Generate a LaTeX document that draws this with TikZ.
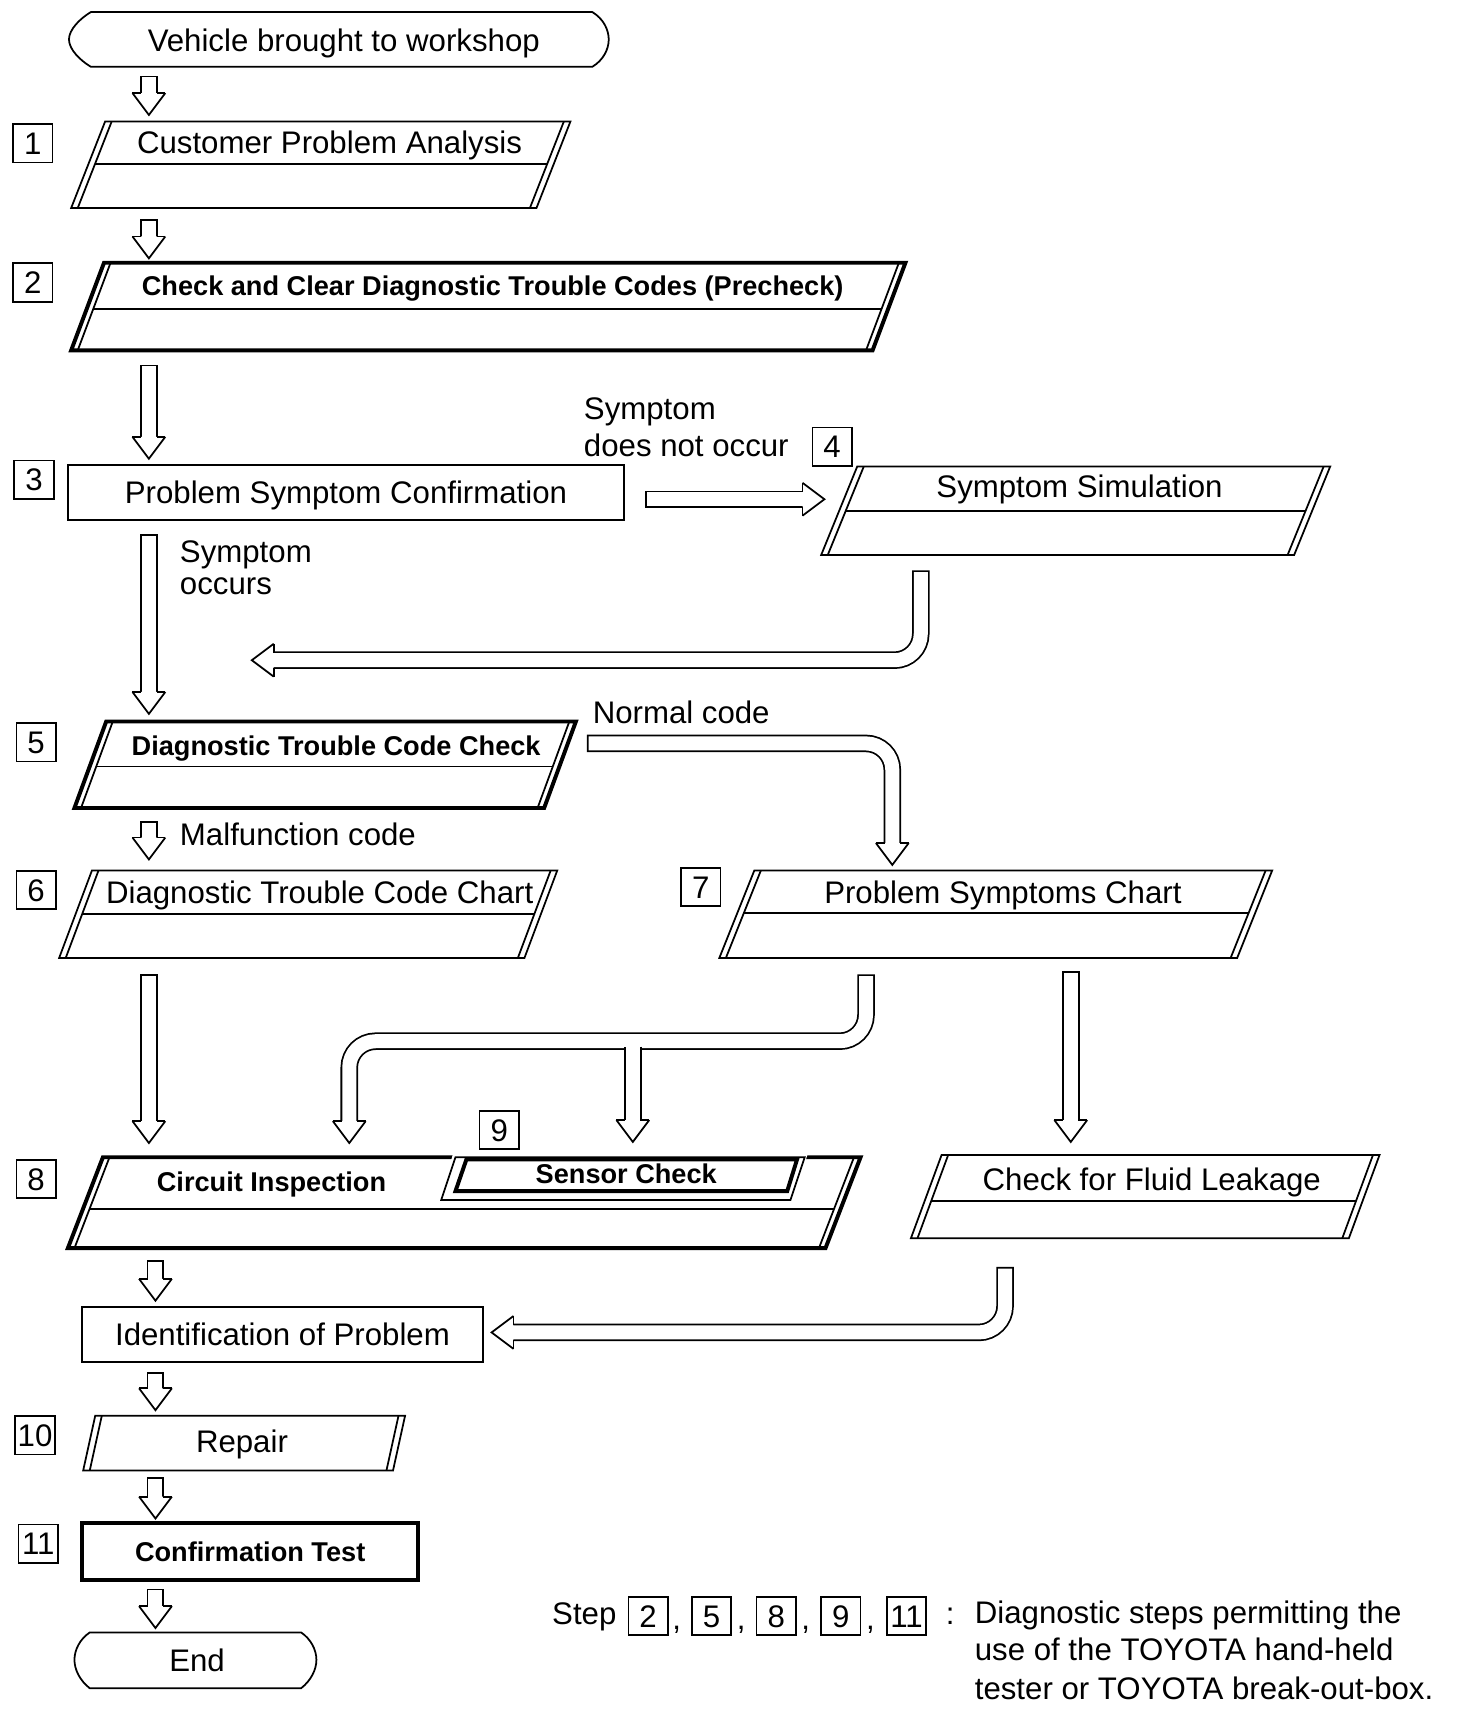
\documentclass[tikz,border=0pt]{standalone}
\usepackage{fontspec}
\setmainfont{Liberation Sans}

\newcommand{\parabox}[7]{%
  \draw[#1] (#2,#3) -- ({#2+#4},#3) -- ({#2+#4-#6},{#3+#5}) -- ({#2-#6},{#3+#5}) -- cycle;
  \draw[thinrule] ({#2+6},#3) -- ({#2+6-#6},{#3+#5}) ({#2+#4-6},#3) -- ({#2+#4-6-#6},{#3+#5});
  \ifnum#7>0 \draw[thinrule] ({#2+6-#6*#7/#5},{#3+#7}) -- ({#2+#4-6-#6*#7/#5},{#3+#7});\fi}

\begin{document}
\begin{tikzpicture}[x=0.5pt, y=-0.5pt,
  thinrule/.style={line width=0.8pt},
  thickrule/.style={line width=1.8pt},
  txt/.style={font=\fontsize{14.25}{17}\selectfont, inner sep=0pt},
  btxt/.style={font=\fontsize{12.4}{15}\selectfont\bfseries, inner sep=0pt},
  num/.style={txt, draw, line width=0.8pt, minimum width=18pt, minimum height=17.5pt, text height=10.2pt, text depth=0pt},
  rect/.style={draw, line width=0.8pt, text height=10.2pt, text depth=0pt},
  shaft/.style={line width=0.8pt, double, double distance=6.4pt, line cap=rect, rounded corners=12pt},
  headdown/.pic={\filldraw[fill=white, line width=0.8pt] (-15,0) -- (0,20) -- (15,0);
    \draw[line width=0.8pt] (-15,0) -- (-7,0) (7,0) -- (15,0);},
  headleft/.pic={\filldraw[fill=white, line width=0.8pt] (0,-15) -- (-20,0) -- (0,15);
    \draw[line width=0.8pt] (0,-15) -- (0,-7) (0,7) -- (0,15);},
  headright/.pic={\filldraw[fill=white, line width=0.8pt] (0,-15) -- (20,0) -- (0,15);
    \draw[line width=0.8pt] (0,-15) -- (0,-7) (0,7) -- (0,15);}]
\useasboundingbox (0,0) rectangle (1330,1571);

% terminals
\draw[thinrule] (83,11) -- (541,11) .. controls (551,17) and (556,27) .. (556,36) .. controls (556,45) and (551,55) .. (541,61)
  -- (83,61) .. controls (73,55) and (63,45) .. (63,36) .. controls (63,27) and (73,17) .. (83,11) -- cycle;
\node[txt, anchor=base] (start) at (314,47) {Vehicle brought to workshop};
\draw[thinrule] (82,1491) -- (275,1491) .. controls (284,1497) and (289,1507) .. (289,1516) .. controls (289,1525) and (284,1535) .. (275,1542)
  -- (82,1542) .. controls (73,1535) and (68,1525) .. (68,1516) .. controls (68,1507) and (73,1497) .. (82,1491) -- cycle;
\node[txt, anchor=base] (end) at (180,1527) {End};

% boxes
\parabox{thinrule}{96}{111}{425}{79}{31}{39}
\node[txt, anchor=base] (cpa) at (301,140) {Customer Problem Analysis};
\parabox{thickrule}{95}{240}{732}{80}{30}{42}
\node[btxt, anchor=base] (ccdtc) at (450,270) {Check and Clear Diagnostic Trouble Codes (Precheck)};
\node[rect, txt, minimum width=254pt, minimum height=25pt] (psc) at (316,450) {Problem Symptom Confirmation};
\parabox{thinrule}{783}{426}{432}{81}{33}{41}
\node[txt, anchor=base] (symsim) at (986,454) {Symptom Simulation};
\parabox{thickrule}{97}{659}{429}{79}{29}{41}
\node[btxt, anchor=base] (dtcc) at (307,690) {Diagnostic Trouble Code Check};
\parabox{thinrule}{84}{795}{425}{80}{30}{40}
\node[txt, anchor=base] (dtcchart) at (292,825) {Diagnostic Trouble Code Chart};
\parabox{thinrule}{689}{795}{473}{80}{32}{39}
\node[txt, anchor=base] (pschart) at (916,825) {Problem Symptoms Chart};
\parabox{thickrule}{94}{1057}{692}{83}{32}{47}
\fill[white] (414,1053) -- (738,1053) -- (724,1098) -- (401,1098) -- cycle;
\draw[thinrule] (416,1057) -- (735,1057) -- (722,1096) -- (403,1096) -- cycle;
\draw[thickrule] (426,1059) -- (728,1059) -- (719,1088) -- (416,1088) -- cycle;
\node[btxt, anchor=base] (circ) at (248,1088) {Circuit Inspection};
\node[btxt, anchor=base] (sensor) at (572,1081) {Sensor Check};
\parabox{thinrule}{860}{1055}{400}{76}{28}{42}
\node[txt, anchor=base] (fluid) at (1052,1087) {Check for Fluid Leakage};
\node[rect, txt, minimum width=183pt, minimum height=25pt] (ident) at (258,1219) {Identification of Problem};
\parabox{thinrule}{87}{1293}{283}{50}{11}{0}
\node[txt, anchor=base] (repair) at (221,1327) {Repair};
\node[rect, btxt, line width=1.8pt, text height=8.9pt, minimum width=153.5pt, minimum height=26pt] (conf) at (228.5,1417) {Confirmation Test};

% step numbers
\foreach \n/\x/\y in {1/30/131, 2/30/258, 3/31/438, 4/760/408, 5/33/678, 6/33/813, 7/640/810, 8/33/1077, 9/456/1032, 10/32/1311, 11/35/1410}
  \node[num] (s\n) at (\x,\y) {\n};

% labels
\node[txt, anchor=base west] (nocc1) at (533,383) {Symptom};
\node[txt, anchor=base west] (nocc2) at (533,417) {does not occur};
\node[txt, anchor=base west] (occ1) at (164,514) {Symptom};
\node[txt, anchor=base west] (occ2) at (164,543) {occurs};
\node[txt, anchor=base west] (normal) at (541,661) {Normal code};
\node[txt, anchor=base west] (malf) at (164,772) {Malfunction code};

% straight arrows
\foreach \nm/\x/\a/\b in {a1/136/77/85, a2/136/208/216, a3/136/341/399, a5/136/496/632, a8/136/758/765,
  a9/136/898/1024, a12/978/895/1023, a13/142/1159/1168, a15/142/1261/1268, a16/142/1357/1367, a17/142/1459/1467} {
  \coordinate (\nm-a) at (\x,\a);
  \coordinate (\nm-b) at (\x,\b);
  \draw[shaft] (\nm-a) -- (\nm-b);
  \pic at (\nm-b) {headdown};
}

% bent arrows
\coordinate (a4-a) at (597,456); \coordinate (a4-b) at (733,456);
\draw[shaft] (a4-a) -- (a4-b); \pic at (a4-b) {headright};
\coordinate (a6-a) at (841,529); \coordinate (a6-b) at (250,603);
\draw[shaft] (a6-a) |- (a6-b); \pic at (a6-b) {headleft};
\coordinate (a7-a) at (544,679); \coordinate (a7-b) at (815,770);
\draw[shaft] (a7-a) -| (a7-b); \pic at (a7-b) {headdown};
\coordinate (a10-a) at (791,898); \coordinate (a10-b) at (319,1024);
\draw[shaft] (a10-a) -- (791,951) -- (319,951) -- (a10-b); \pic at (a10-b) {headdown};
\coordinate (a11-a) at (578,956); \coordinate (a11-b) at (578,1023);
\draw[shaft, line cap=butt] (a11-a) -- (a11-b); \pic at (a11-b) {headdown};
\coordinate (a14-a) at (918,1165); \coordinate (a14-b) at (469,1217);
\draw[shaft] (a14-a) |- (a14-b); \pic at (a14-b) {headleft};

% legend
\node[txt, anchor=base west] (stepword) at (504,1484) {Step};
\foreach \n/\x in {2/592, 5/650, 8/709, 9/768, 11/828}
  \node[num] (leg\n) at (\x,1476) {\n};
\foreach \x [count=\i] in {618, 677, 736, 795}
  \node[txt, anchor=base] (comma\i) at (\x,1488) {,};
\node[txt, anchor=base] (colon) at (868,1484) {:};
\node[txt, anchor=base west] (note1) at (890,1483) {Diagnostic steps permitting the};
\node[txt, anchor=base west] (note2) at (890,1517) {use of the TOYOTA hand-held};
\node[txt, anchor=base west] (note3) at (890,1552) {tester or TOYOTA break-out-box.};
\end{tikzpicture}
\end{document}
